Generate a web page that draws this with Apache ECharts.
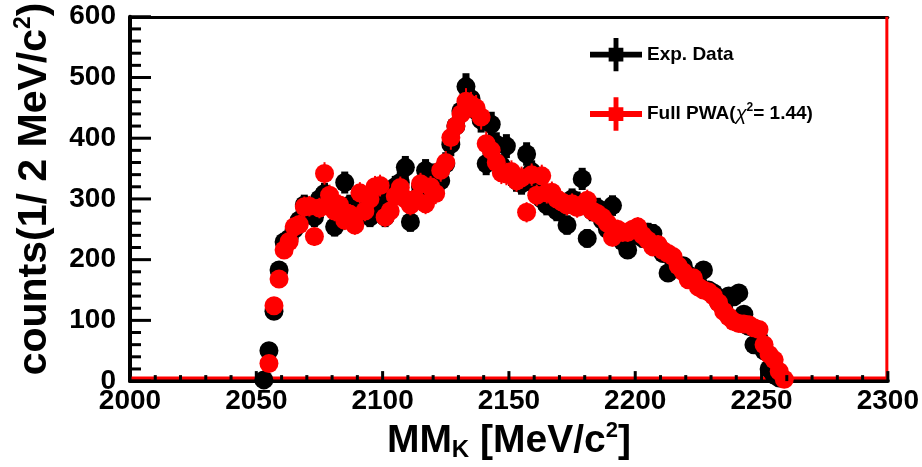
<!DOCTYPE html>
<html>
<head>
<meta charset="utf-8">
<script src="https://cdn.jsdelivr.net/npm/echarts@6/dist/echarts.min.js"></script>
<style>
  html, body { margin: 0; padding: 0; background: #fff; }
  #main { width: 922px; height: 467px; background: #fff; }
</style>
</head>
<body>
<div id="main"></div>
<script>
// bin centres, 2 MeV bins
const mass = [
  2053, 2055, 2057, 2059, 2061, 2063, 2065, 2067, 2069, 2071,
  2073, 2075, 2077, 2079, 2081, 2083, 2085, 2087, 2089, 2091,
  2093, 2095, 2097, 2099, 2101, 2103, 2105, 2107, 2109, 2111,
  2113, 2115, 2117, 2119, 2121, 2123, 2125, 2127, 2129, 2131,
  2133, 2135, 2137, 2139, 2141, 2143, 2145, 2147, 2149, 2151,
  2153, 2155, 2157, 2159, 2161, 2163, 2165, 2167, 2169, 2171,
  2173, 2175, 2177, 2179, 2181, 2183, 2185, 2187, 2189, 2191,
  2193, 2195, 2197, 2199, 2201, 2203, 2205, 2207, 2209, 2211,
  2213, 2215, 2217, 2219, 2221, 2223, 2225, 2227, 2229, 2231,
  2233, 2235, 2237, 2239, 2241, 2243, 2245, 2247, 2249, 2251,
  2253, 2255, 2257, 2259,
];

const expData = [
  2, 50, 115, 183, 229, 235, 250, 265, 290, 280,
  270, 300, 309, 295, 254, 270, 327, 290, 262, 300,
  285, 270, 310, 290, 270, 300, 320, 327, 352, 262,
  300, 320, 347, 330, 340, 330, 358, 390, 420, 445,
  485, 465, 445, 430, 358, 423, 390, 355, 387, 340,
  330, 325, 374, 345, 320, 300, 290, 300, 280, 290,
  257, 300, 295, 333, 235, 280, 285, 265, 250, 289,
  240, 230, 216, 245, 240, 235, 245, 243, 220, 210,
  178, 200, 185, 190, 175, 170, 160, 183, 150, 145,
  130, 120, 140, 139, 145, 110, 90, 60, 70, 50,
  20, 10, 5, '-',
];

const pwaFit = [
  '-', 29, 124, 168, 216, 230, 254, 258, 287, 288,
  238, 285, 342, 306, 280, 290, 265, 275, 257, 310,
  280, 300, 320, 322, 270, 280, 305, 319, 300, 290,
  300, 325, 292, 320, 309, 347, 360, 401, 420, 440,
  461, 455, 450, 435, 391, 380, 360, 343, 341, 345,
  330, 335, 278, 340, 306, 338, 310, 311, 300, 295,
  290, 292, 286, 290, 298, 280, 276, 270, 260, 237,
  250, 245, 245, 250, 254, 240, 232, 221, 225, 215,
  210, 205, 190, 180, 167, 170, 155, 150, 147, 140,
  129, 115, 106, 98, 95, 94, 93, 88, 85, 60,
  44, 35, 16, 3,
];

// axis ticks
const xTicks = [2000, 2050, 2100, 2150, 2200, 2250, 2300];
const yTicks = [0, 100, 200, 300, 400, 500, 600];
const minorDiv = 5;

const xRange = [xTicks[0], xTicks[xTicks.length - 1]];
const yRange = [yTicks[0], yTicks[yTicks.length - 1]];

const FONT = "'Liberation Sans', Arial, sans-serif";

const chart = echarts.init(document.getElementById('main'));

function pairs(values) {
  const out = [];
  for (let i = 0; i < mass.length; i++) {
    if (values[i] !== '-') out.push([mass[i], values[i]]);
  }
  return out;
}

function withMinor(ticks) {
  const out = [];
  for (let i = 0; i < ticks.length; i++) {
    out.push({ v: ticks[i], major: true });
    if (i < ticks.length - 1) {
      const step = (ticks[i + 1] - ticks[i]) / minorDiv;
      for (let k = 1; k < minorDiv; k++) out.push({ v: ticks[i] + k * step, major: false });
    }
  }
  return out;
}

// marker with error bars (sqrt(N) counting error, +-1 MeV half bin)
function crossPoint(color, barWidth, radius) {
  return (params, api) => {
    const x = api.value(0);
    const y = api.value(1);
    const err = Math.sqrt(y);
    const c = api.coord([x, y]);
    const hi = api.coord([x, y + err]);
    const lo = api.coord([x, Math.max(y - err, 0)]);
    const l = api.coord([x - 1, y]);
    const r = api.coord([x + 1, y]);
    return {
      type: 'group',
      children: [
        { type: 'line', shape: { x1: c[0], y1: hi[1], x2: c[0], y2: lo[1] }, style: { stroke: color, lineWidth: barWidth } },
        { type: 'line', shape: { x1: l[0], y1: c[1], x2: r[0], y2: c[1] }, style: { stroke: color, lineWidth: barWidth } },
        { type: 'circle', shape: { cx: c[0], cy: c[1], r: radius }, style: { fill: color } },
      ],
    };
  };
}

// red PWA outline: zero line + right edge
function renderOutline(params, api) {
  const a = api.coord([xRange[0], yRange[0]]);
  const b = api.coord([xRange[1], yRange[0]]);
  const t = api.coord([xRange[1], yRange[1]]);
  return {
    type: 'polyline',
    shape: { points: [[a[0], a[1] - 3], [b[0] - 1, b[1] - 3], [t[0] - 1, t[1]]] },
    style: { stroke: '#f00', lineWidth: 3, fill: null },
  };
}

const crossIcon = 'path://M0,14H19V10H24V0H29V10H34V14H53V20H34V24H29V34H24V24H19V20H0Z';

const option = {
  animation: false,
  grid: {
    left: 130,
    right: 34,
    top: 15,
    bottom: 85,
  },
  legend: {
    orient: 'vertical',
    left: 585,
    top: 33,
    itemWidth: 52,
    itemHeight: 34,
    itemGap: 26,
    data: [
      { name: 'Exp. Data', icon: crossIcon },
      { name: 'Full PWA', icon: crossIcon },
    ],
    formatter: (name) => (name === 'Full PWA'
      ? '{a|Full PWA(}{g|χ}{s|2}{a|= 1.44)}'
      : '{a|Exp. Data}'),
    textStyle: {
      rich: {
        a: { fontFamily: FONT, fontWeight: 'bold', fontSize: 19, color: '#000', lineHeight: 24 },
        g: { fontFamily: FONT, fontStyle: 'italic', fontSize: 20, color: '#000', lineHeight: 24 },
        s: { fontFamily: FONT, fontWeight: 'bold', fontSize: 12, color: '#000', lineHeight: 12, verticalAlign: 'top' },
      },
    },
  },
  xAxis: [
    {
      type: 'value',
      min: xRange[0],
      max: xRange[1],
      interval: xTicks[1] - xTicks[0],
      axisLine: { show: true, onZero: false, lineStyle: { color: '#000', width: 4 } },
      axisTick: { show: false },
      splitLine: { show: false },
      axisLabel: {
        margin: 6, color: '#000', fontFamily: FONT, fontWeight: 'bold', fontSize: 28,
        formatter: (v) => String(v),
      },
      name: '{a|MM}{k|K}{a| [MeV/c}{s|2}{a|]}',
      nameLocation: 'middle',
      nameGap: 37,
      nameTextStyle: {
        rich: {
          a: { fontFamily: FONT, fontWeight: 'bold', fontSize: 39, color: '#000', lineHeight: 42 },
          k: { fontFamily: FONT, fontWeight: 'bold', fontSize: 24, color: '#000', lineHeight: 16, verticalAlign: 'bottom' },
          s: { fontFamily: FONT, fontWeight: 'bold', fontSize: 22, color: '#000', lineHeight: 20, verticalAlign: 'top' },
        },
      },
    },
    {
      // top edge of the frame
      type: 'value',
      position: 'top',
      min: xRange[0],
      max: xRange[1],
      axisLine: { show: true, onZero: false, lineStyle: { color: '#000', width: 3 } },
      axisTick: { show: false },
      axisLabel: { show: false },
      splitLine: { show: false },
    },
  ],
  yAxis: {
    type: 'value',
    min: yRange[0],
    max: yRange[1],
    interval: yTicks[1] - yTicks[0],
    axisLine: { show: true, onZero: false, lineStyle: { color: '#000', width: 4 } },
    axisTick: { show: false },
    splitLine: { show: false },
    axisLabel: { margin: 14, color: '#000', fontFamily: FONT, fontWeight: 'bold', fontSize: 28 },
    name: '{a|counts(1/ 2 MeV/c}{s|2}{a|)}',
    nameLocation: 'middle',
    nameRotate: 90,
    nameGap: 72,
    nameTextStyle: {
      padding: [0, 0, 0, 20],
      rich: {
        a: { fontFamily: FONT, fontWeight: 'bold', fontSize: 41, color: '#000', lineHeight: 46 },
        s: { fontFamily: FONT, fontWeight: 'bold', fontSize: 23, color: '#000', lineHeight: 22, verticalAlign: 'top' },
      },
    },
  },
  series: [
    {
      type: 'custom',
      name: 'outline',
      silent: true,
      z: 1,
      data: [[xRange[1], yRange[1]]],
      renderItem: renderOutline,
    },
    {
      type: 'custom',
      name: 'Exp. Data',
      itemStyle: { color: '#000' },
      z: 2,
      data: pairs(expData),
      renderItem: crossPoint('#000', 7, 9.5),
    },
    {
      type: 'custom',
      name: 'Full PWA',
      itemStyle: { color: '#f00' },
      z: 3,
      data: pairs(pwaFit),
      renderItem: crossPoint('#f00', 2, 9.5),
    },
  ],
};

chart.setOption(option);

// ROOT-like inward ticks, placed through the chart's own axis scales
const tickEls = [];
withMinor(xTicks).forEach((tk) => {
  const p = chart.convertToPixel({ xAxisIndex: 0, yAxisIndex: 0 }, [tk.v, yRange[0]]);
  const len = tk.major ? 10 : 6;
  tickEls.push({
    type: 'rect', z: 100, silent: true,
    shape: { x: p[0] - 1.5, y: p[1] - len, width: 3, height: len },
    style: { fill: '#000' },
  });
});
withMinor(yTicks).forEach((tk) => {
  const p = chart.convertToPixel({ xAxisIndex: 0, yAxisIndex: 0 }, [xRange[0], tk.v]);
  const len = tk.major ? 21 : 11;
  tickEls.push({
    type: 'rect', z: 100, silent: true,
    shape: { x: p[0], y: p[1] - 1.5, width: len, height: 3 },
    style: { fill: '#000' },
  });
});
chart.setOption({ graphic: { elements: tickEls } });
</script>
</body>
</html>
